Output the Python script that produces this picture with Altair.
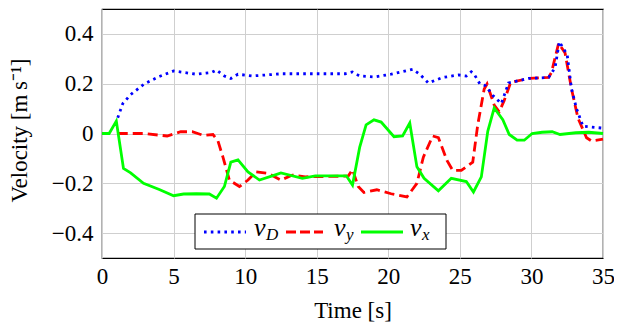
import altair as alt
import pandas as pd

# ---- data ----
t_vD = [1.1, 1.45, 2.0, 2.95, 4.0, 5.0, 6.6, 7.65, 8.0, 8.55, 9.0, 9.5, 10.5, 12.6, 14.9, 17.0,
        17.5, 18.0, 19.0, 20.2, 21.7, 22.2, 22.8, 23.8, 24.9, 25.45, 25.8, 26.0, 26.4, 26.8,
        27.3, 27.9, 28.1, 28.4, 29.8, 31.2, 31.65, 31.95, 32.5, 32.8, 33.15, 33.6, 34.9, 35.0]
vD = [0.063, 0.12, 0.156, 0.199, 0.229, 0.251, 0.238, 0.245, 0.255, 0.231, 0.221, 0.238, 0.231,
      0.24, 0.24, 0.24, 0.247, 0.231, 0.227, 0.238, 0.258, 0.238, 0.203, 0.225, 0.235, 0.231,
      0.248, 0.238, 0.199, 0.192, 0.153, 0.12, 0.153, 0.203, 0.221, 0.225, 0.264, 0.369, 0.316,
      0.179, 0.1, 0.029, 0.022, 0.022]

t_vy = [1.1, 2.9, 4.55, 5.5, 6.3, 7.1, 7.75, 8.1, 8.45, 8.9, 9.6, 10.2, 10.75, 11.6, 12.5, 13.3,
        14.2, 17.2, 17.5, 17.9, 18.3, 19.2, 20.2, 21.3, 22.0, 22.45, 23.1, 23.5, 24.1, 24.5,
        25.1, 25.9, 26.25, 26.7, 26.9, 27.4, 27.75, 28.1, 28.55, 29.8, 31.2, 31.4, 31.9, 32.35,
        32.8, 33.25, 33.85, 34.2, 35.0]
vy = [0.0, 0.0, -0.01, 0.007, 0.007, -0.008, -0.004, -0.03, -0.095, -0.187, -0.213, -0.187,
      -0.154, -0.16, -0.187, -0.167, -0.174, -0.171, -0.145, -0.213, -0.237, -0.226, -0.242,
      -0.255, -0.2, -0.095, -0.01, -0.017, -0.108, -0.148, -0.148, -0.115, 0.035, 0.179, 0.199,
      0.114, 0.087, 0.133, 0.205, 0.221, 0.225, 0.245, 0.362, 0.323, 0.179, 0.062, -0.017,
      -0.03, -0.023]

t_vx = [0.0, 0.5, 1.0, 1.5, 2.0, 2.9, 4.0, 5.0, 5.7, 6.6, 7.5, 8.0, 8.55, 9.0, 9.5, 10.2, 11.0,
        12.0, 12.5, 14.0, 14.9, 17.07, 17.5, 18.0, 18.45, 19.0, 19.5, 20.4, 21.0, 21.5, 22.0,
        22.5, 23.5, 24.4, 25.45, 25.95, 26.5, 26.95, 27.4, 28.0, 28.45, 29.0, 29.5, 30.05,
        30.75, 31.45, 32.0, 33.1, 34.0, 35.0]
vx = [0.0, 0.0, 0.05, -0.14, -0.158, -0.2, -0.225, -0.25, -0.243, -0.242, -0.243, -0.26,
      -0.213, -0.115, -0.106, -0.154, -0.187, -0.168, -0.158, -0.18, -0.17, -0.17, -0.207,
      -0.056, 0.035, 0.055, 0.046, -0.013, -0.01, 0.042, -0.134, -0.18, -0.23, -0.18, -0.193,
      -0.235, -0.174, 0.009, 0.103, 0.055, -0.004, -0.027, -0.027, 0.0, 0.005, 0.007, -0.004,
      0.003, 0.005, 0.0]

legend_main = ["v", "v", "v"]
legend_sub = ["D", "y", "x"]
colors = ["#0000ff", "#ff0000", "#00ff00"]
x_ticks = [0, 5, 10, 15, 20, 25, 30, 35]
y_ticks = [-0.4, -0.2, 0, 0.2, 0.4]

FONT = "Liberation Serif"
LEFT = 94
W, H = 501, 249
GRID = "#cfcfcf"

x_enc = alt.X(
    "t:Q",
    scale=alt.Scale(domain=[0, 35], nice=False, zero=False),
    axis=alt.Axis(values=x_ticks, title="Time [s]", grid=True, gridColor=GRID, gridWidth=1,
                  domain=False, ticks=False, tickSize=0, labelPadding=25,
                  labelBaseline="alphabetic", labelFont=FONT, labelFontSize=23,
                  labelColor="black", labelFlush=False,
                  titleFont=FONT, titleFontSize=23, titleFontWeight="normal",
                  titleColor="black", titleX=W / 2, titleY=59, titleBaseline="alphabetic"),
)
y_enc = alt.Y(
    "v:Q",
    scale=alt.Scale(domain=[-0.5, 0.5], nice=False, zero=False),
    axis=alt.Axis(values=y_ticks, title="Velocity [m\u2009s\u207b\u00b9]", grid=True,
                  gridColor=GRID, gridWidth=1, domain=False, ticks=False, tickSize=0,
                  labelPadding=9, labelFont=FONT, labelFontSize=23, labelColor="black",
                  labelFlush=False,
                  labelExpr="datum.value == 0 ? '0' : replace(format(datum.value, '.1f'), '-', '\u2212')",
                  titleFont=FONT, titleFontSize=23, titleFontWeight="normal",
                  titleColor="black", titleAngle=-90, titleX=-76, titleY=121,
                  titleBaseline="alphabetic"),
)

df_D = pd.DataFrame({"t": t_vD, "v": vD})
df_y = pd.DataFrame({"t": t_vy, "v": vy})
df_x = pd.DataFrame({"t": t_vx, "v": vx})

line_y = alt.Chart(df_y).mark_line(color=colors[1], strokeWidth=2.8, strokeDash=[10, 5],
                                   strokeCap="butt").encode(x=x_enc, y=y_enc)
line_D = alt.Chart(df_D).mark_line(color=colors[0], strokeWidth=2.8, strokeDash=[2.6, 4.2],
                                   strokeCap="butt").encode(x=x_enc, y=y_enc)
line_x = alt.Chart(df_x).mark_line(color=colors[2], strokeWidth=2.8).encode(x=x_enc, y=y_enc)

# ---- legend (styling only; positions in page pixels minus plot origin) ----
ox = 8 + LEFT
one = pd.DataFrame({"a": [0]})
box = alt.Chart(one).mark_rect(fill="white", stroke="black", strokeWidth=1).encode(
    x=alt.value(195 - ox), x2=alt.value(446 - ox), y=alt.value(205), y2=alt.value(240))

sym_x = [(204, 246), (286, 323), (361, 403)]
dashes = [[2.6, 4.2], [10, 4], None]
main_x = [254, 334, 410]
sub_x = [266, 346, 422]
legend_layers = [box]
for i in range(3):
    kw = dict(color=colors[i], strokeWidth=2.8, strokeCap="butt")
    if dashes[i] is not None:
        kw["strokeDash"] = dashes[i]
    legend_layers.append(alt.Chart(one).mark_rule(**kw).encode(
        x=alt.value(sym_x[i][0] - ox), x2=alt.value(sym_x[i][1] - ox), y=alt.value(223)))
    legend_layers.append(alt.Chart(one).mark_text(
        align="left", baseline="alphabetic", font=FONT, fontStyle="italic", fontSize=26,
        color="black").encode(x=alt.value(main_x[i] - ox), y=alt.value(227),
                              text=alt.value(legend_main[i])))
    legend_layers.append(alt.Chart(one).mark_text(
        align="left", baseline="alphabetic", font=FONT, fontStyle="italic", fontSize=17,
        color="black").encode(x=alt.value(sub_x[i] - ox), y=alt.value(231),
                              text=alt.value(legend_sub[i])))

chart = alt.layer(line_y, line_D, line_x, *legend_layers).properties(
    width=W, height=H,
    autosize=alt.AutoSizeParams(type="none"),
    padding={"left": LEFT, "top": 1, "right": 606 - LEFT - W, "bottom": 64},
).configure_view(stroke="black", strokeWidth=1.2)

chart.save("out.html", embed_options={"renderer": "svg", "actions": False})
